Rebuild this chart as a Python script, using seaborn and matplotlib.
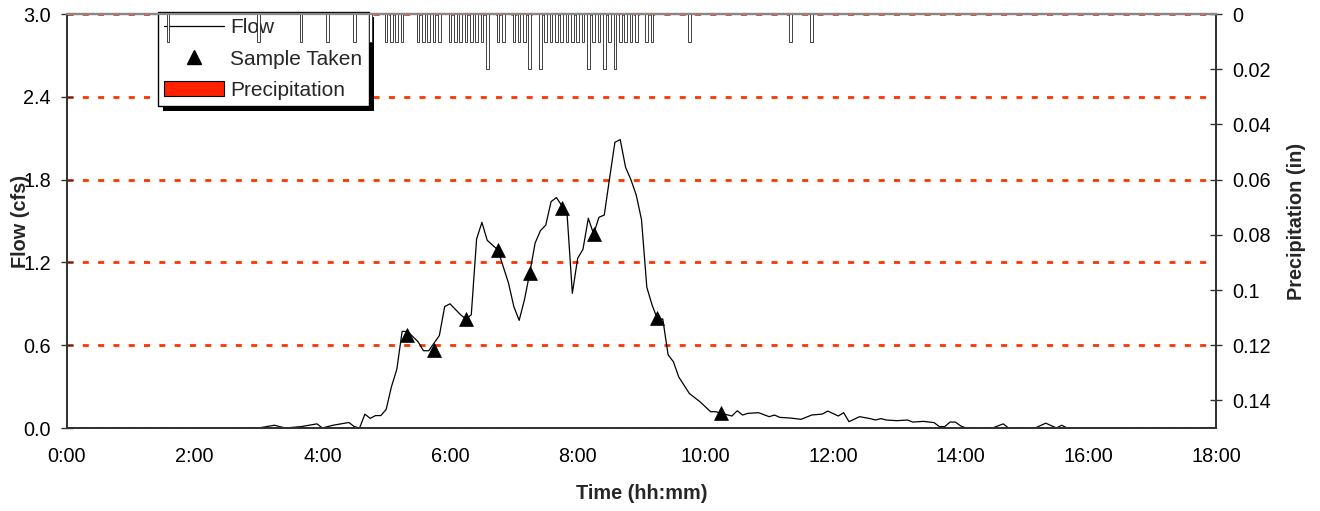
import matplotlib
matplotlib.use("Agg")
import numpy as np
import pandas as pd
import seaborn as sns
import matplotlib.pyplot as plt
from matplotlib.lines import Line2D
from matplotlib.patches import Patch, Rectangle
from matplotlib.transforms import IdentityTransform

# ---------------- data ----------------
flow_times = ["0:00", "3:00", "3:15", "3:25", "3:40", "3:55", "4:00", "4:10", "4:25", "4:30",
              "4:35", "4:40", "4:45", "4:50", "4:55", "5:00", "5:05", "5:10", "5:15", "5:20",
              "5:30", "5:35", "5:40", "5:50", "5:55", "6:00", "6:10", "6:15", "6:20", "6:25",
              "6:30", "6:35", "6:45", "6:50", "6:55", "7:00", "7:05", "7:10", "7:15", "7:20",
              "7:25", "7:30", "7:35", "7:40", "7:50", "7:55", "8:00", "8:05", "8:10", "8:15",
              "8:20", "8:25", "8:30", "8:35", "8:40", "8:45", "8:50", "8:55", "9:00", "9:05",
              "9:10", "9:15", "9:20", "9:25", "9:30", "9:35", "9:45", "9:55", "10:05", "10:10",
              "10:15", "10:25", "10:30", "10:35", "10:40", "10:50", "11:00", "11:05", "11:10", "11:20",
              "11:30", "11:40", "11:50", "11:55", "12:05", "12:10", "12:15", "12:25", "12:35", "12:40",
              "12:45", "12:50", "13:00", "13:10", "13:15", "13:25", "13:35", "13:40", "13:45", "13:50",
              "13:55", "14:00", "14:05", "14:30", "14:40", "14:45", "15:10", "15:20", "15:30", "15:35",
              "15:40", "18:00"]
flow_cfs = [0.0, 0.0, 0.02, 0.0, 0.01, 0.03, 0.0, 0.02, 0.04, 0.01,
            0.0, 0.10, 0.07, 0.09, 0.09, 0.135, 0.30, 0.425, 0.70, 0.70,
            0.625, 0.56, 0.56, 0.67, 0.88, 0.90, 0.82, 0.79, 0.82, 1.37,
            1.49, 1.36, 1.29, 1.17, 1.05, 0.88, 0.78, 0.93, 1.125, 1.34,
            1.43, 1.47, 1.64, 1.67, 1.556, 0.976, 1.23, 1.295, 1.52, 1.406,
            1.527, 1.543, 1.81, 2.07, 2.09, 1.89, 1.80, 1.69, 1.51, 1.02,
            0.89, 0.79, 0.79, 0.53, 0.48, 0.37, 0.25, 0.19, 0.118, 0.118,
            0.106, 0.087, 0.125, 0.094, 0.106, 0.111, 0.082, 0.094, 0.077, 0.072,
            0.063, 0.094, 0.101, 0.123, 0.087, 0.111, 0.046, 0.082, 0.068, 0.058,
            0.068, 0.058, 0.053, 0.058, 0.043, 0.048, 0.039, 0.01, 0.01, 0.043,
            0.043, 0.015, 0.0, 0.0, 0.03, 0.0, 0.0, 0.035, 0.0, 0.02,
            0.0, 0.0]

sample_times = ["5:20", "5:45", "6:15", "6:45", "7:15", "7:45", "8:15", "9:15", "10:15"]
sample_cfs = [0.674, 0.563, 0.79, 1.288, 1.125, 1.594, 1.408, 0.797, 0.106]

precip_times = ["1:35", "3:00", "3:40", "4:05", "4:30", "4:45", "5:00", "5:05", "5:10", "5:15",
                "5:30", "5:35", "5:40", "5:45", "5:50", "6:00", "6:05", "6:10", "6:15", "6:20",
                "6:25", "6:30", "6:35", "6:45", "6:50", "7:00", "7:05", "7:10", "7:15", "7:25",
                "7:30", "7:35", "7:40", "7:45", "7:50", "7:55", "8:00", "8:05", "8:10", "8:15",
                "8:20", "8:25", "8:30", "8:35", "8:40", "8:45", "8:50", "8:55", "9:05", "9:10",
                "9:45", "11:20", "11:40"]
precip_in = [0.01, 0.01, 0.01, 0.01, 0.01, 0.01, 0.01, 0.01, 0.01, 0.01,
             0.01, 0.01, 0.01, 0.01, 0.01, 0.01, 0.01, 0.01, 0.01, 0.01,
             0.01, 0.01, 0.02, 0.01, 0.01, 0.01, 0.01, 0.01, 0.02, 0.02,
             0.01, 0.01, 0.01, 0.01, 0.01, 0.01, 0.01, 0.01, 0.02, 0.01,
             0.01, 0.02, 0.01, 0.02, 0.01, 0.01, 0.01, 0.01, 0.01, 0.01,
             0.01, 0.01, 0.01]

x_tick_hours = [0, 2, 4, 6, 8, 10, 12, 14, 16, 18]
x_tick_labels = ["0:00", "2:00", "4:00", "6:00", "8:00", "10:00", "12:00", "14:00", "16:00", "18:00"]
flow_ticks = [0.0, 0.6, 1.2, 1.8, 2.4, 3.0]
flow_tick_labels = ["0.0", "0.6", "1.2", "1.8", "2.4", "3.0"]
precip_ticks = [0, 0.02, 0.04, 0.06, 0.08, 0.10, 0.12, 0.14]
precip_tick_labels = ["0", "0.02", "0.04", "0.06", "0.08", "0.1", "0.12", "0.14"]


def to_hours(t):
    h, m = t.split(":")
    return int(h) + int(m) / 60.0


flow_df = pd.DataFrame({"hours": [to_hours(t) for t in flow_times], "flow": flow_cfs})
sample_df = pd.DataFrame({"hours": [to_hours(t) for t in sample_times], "flow": sample_cfs})
precip_df = pd.DataFrame({"hours": [to_hours(t) for t in precip_times], "precip": precip_in})

# ---------------- style ----------------
sns.set_theme(style="white")
plt.rcParams["font.family"] = ["Liberation Sans", "DejaVu Sans"]

GRID_RED = "#FF3300"
SPINE = "#333333"
FS = 14.3

fig = plt.figure(figsize=(13.2, 5.11), dpi=100)
fig.patch.set_facecolor("white")
ax1 = fig.add_axes([67 / 1320, 1 - 428 / 511, (1216 - 67) / 1320, (428 - 14) / 511])
ax2 = ax1.twinx()

# flow line and samples
sns.lineplot(data=flow_df, x="hours", y="flow", ax=ax1, color="black", linewidth=0.9,
             legend=False, zorder=3)
sns.scatterplot(data=sample_df, x="hours", y="flow", ax=ax1, marker="^", s=100,
                color="black", edgecolor="black", linewidth=0.5, legend=False, zorder=4)

# precipitation bars hanging from the top (inverted secondary axis)
sns.barplot(data=precip_df, x="hours", y="precip", ax=ax2, native_scale=True,
            width=0.5, color="white", saturation=1, edgecolor="#222222",
            linewidth=0.6, errorbar=None)

# axes limits and ticks
ax1.set_xlim(0, 18)
ax1.set_ylim(0, 3.0)
ax2.set_ylim(0.15, 0)

ax1.set_xticks(x_tick_hours)
ax1.set_xticklabels(x_tick_labels)
ax1.set_yticks(flow_ticks)
ax1.set_yticklabels(flow_tick_labels)
ax2.set_yticks(precip_ticks)
ax2.set_yticklabels(precip_tick_labels)

for ax in (ax1, ax2):
    ax.tick_params(axis="both", direction="inout", length=9, width=1.0, color=SPINE,
                   labelsize=FS, labelcolor="black", pad=7)
ax1.tick_params(axis="x", pad=9)

# grid (red dashed)
ax1.grid(False)
ax2.grid(False)
ax1.grid(axis="y", color=GRID_RED, linestyle=(0, (2.16, 3.35)), linewidth=2.0, zorder=1)
ax1.set_axisbelow(True)

# spines
for ax in (ax1, ax2):
    for side in ("left", "right", "bottom"):
        ax.spines[side].set_color(SPINE)
        ax.spines[side].set_linewidth(1.3)
    ax.spines["top"].set_color("#888888")
    ax.spines["top"].set_linewidth(1.6)

# labels
ax1.set_xlabel("Time (hh:mm)", fontsize=FS, fontweight="bold")
ax1.set_ylabel("Flow (cfs)", fontsize=FS, fontweight="bold")
ax2.set_ylabel("Precipitation (in)", fontsize=FS, fontweight="bold")
ax1.xaxis.set_label_coords(0.5, -(484 - 428) / 414)
ax1.yaxis.set_label_coords((30 - 67) / 1149, 0.5)
ax2.yaxis.set_label_coords(1 + (1287 - 1216) / 1149, 0.5)

# legend
handles = [
    Line2D([0], [0], color="black", linewidth=0.9),
    Line2D([0], [0], color="black", marker="^", markersize=10, linestyle="none"),
    Patch(facecolor="#FF2200", edgecolor="black", linewidth=0.8),
]
labels = ["Flow", "Sample Taken", "Precipitation"]
leg = ax1.legend(handles, labels, loc="upper left",
                 bbox_to_anchor=(158 / 1320, 1 - 12 / 511), bbox_transform=fig.transFigure,
                 fontsize=15, frameon=True, fancybox=False, framealpha=1,
                 edgecolor="black", borderpad=0.31, labelspacing=0.58,
                 handlelength=2.86, handletextpad=0.3, borderaxespad=0)
leg.get_frame().set_linewidth(1.0)
leg.set_zorder(6)

# black drop shadow behind the legend
fig.canvas.draw()
bb = leg.get_window_extent()
shadow = Rectangle((bb.x0 + 5, bb.y0 - 5), bb.width, bb.height, transform=IdentityTransform(),
                   facecolor="black", edgecolor="none", zorder=5.5, clip_on=False)
ax1.add_artist(shadow)

fig.savefig("out.png", dpi=100, facecolor="white")
